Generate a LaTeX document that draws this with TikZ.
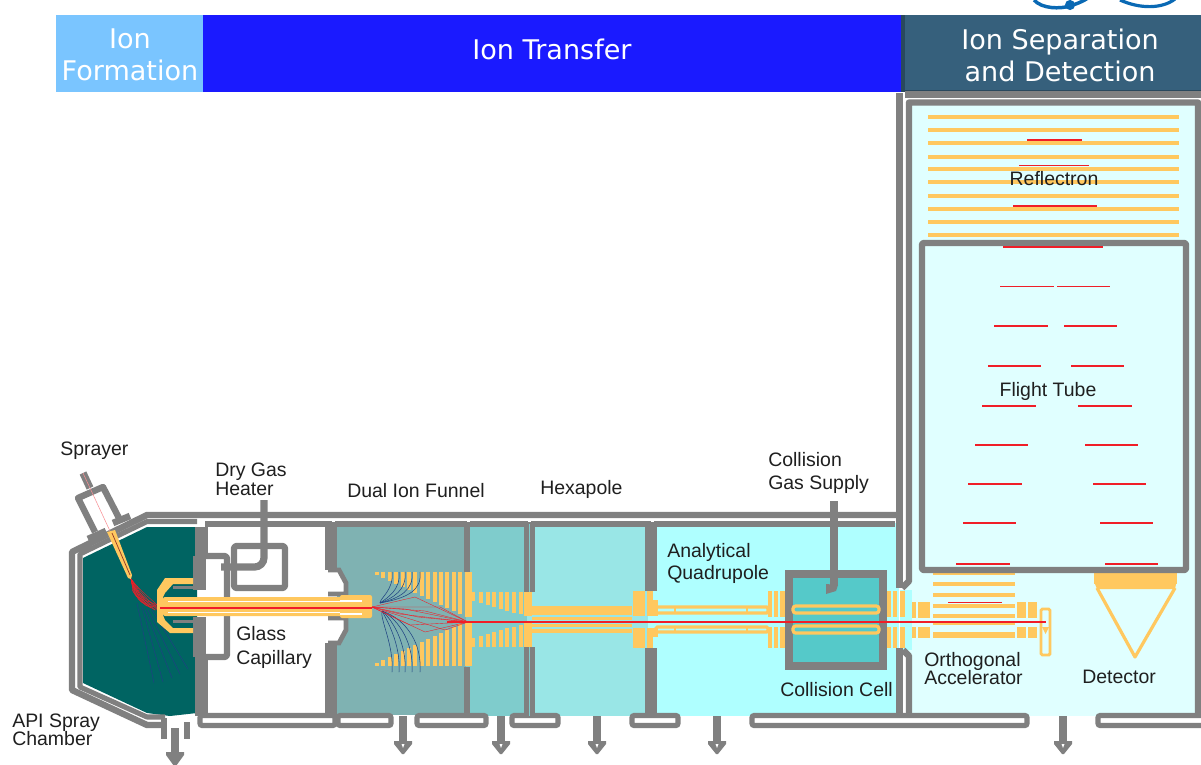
\documentclass[tikz,border=0pt]{standalone}
\usepackage{fontspec}
\setmainfont{Liberation Sans}
\newfontfamily\headfont{DejaVu Sans}
\usepackage{xcolor}
\definecolor{wallgray}{RGB}{128,128,128}
\definecolor{elecorange}{RGB}{255,200,95}
\definecolor{ionred}{RGB}{240,30,40}
\definecolor{tracedark}{RGB}{30,65,130}
\definecolor{chamberteal}{RGB}{0,100,98}
\definecolor{funnelone}{RGB}{127,178,178}
\definecolor{funneltwo}{RGB}{127,204,204}
\definecolor{hexacyan}{RGB}{153,230,230}
\definecolor{quadcyan}{RGB}{175,255,255}
\definecolor{cellteal}{RGB}{85,201,201}
\definecolor{tofcyan}{RGB}{224,255,255}
\definecolor{headlight}{RGB}{122,197,255}
\definecolor{headblue}{RGB}{26,26,255}
\definecolor{headslate}{RGB}{54,96,124}
\definecolor{logoblue}{RGB}{10,105,180}
\tikzset{
  headbar/.style={text=white,align=center,font=\headfont\fontsize{20.3}{24}\selectfont},
  partlabel/.style={anchor=west,align=left,text=black!88,inner sep=0pt,font=\fontsize{14.6}{14.5}\selectfont},
  wall/.style={draw=wallgray,line width=4.8pt,line join=round},
  thinwall/.style={draw=wallgray,line width=3.8pt,line join=round},
  flange/.style={draw=wallgray,line width=3.8pt,fill=white,rounded corners=1.5pt},
  elec/.style={fill=elecorange},
  elecline/.style={draw=elecorange,line width=2.4pt,rounded corners=1pt},
  ionpath/.style={draw=ionred,line width=0.9pt},
  iontrace/.style={draw=ionred,line width=0.28pt},
  bluetrace/.style={draw=tracedark,line width=0.4pt},
  pumpout/.style={fill=wallgray}
}
\begin{document}
\begin{tikzpicture}[x=0.75pt,y=-0.75pt]
  \useasboundingbox (0,0) rectangle (1201,764);
  \fill[white] (0,0) rectangle (1201,764);
  % logo
  \draw[logoblue,line width=2.6pt] (1034,0) .. controls (1042,9) and (1060,9) .. (1070,6) .. controls (1076,4) and (1082,2) .. (1088,-2);
  \fill[logoblue] (1070,5) circle (3.8pt);
  \draw[logoblue,line width=2.4pt] (1120,0) .. controls (1140,9) and (1162,9) .. (1175,-1);
  % header bars
  \fill[headlight] (56,15) rectangle (203,92);
  \fill[headblue] (203,15) rectangle (903,92);
  \fill[headslate] (903,15) rectangle (1201,92);
  \fill[headslate!75!black] (901,15) rectangle (905,92);
  \fill[headslate!75!black] (905,90) rectangle (1201,92);
  \node[headbar] (formhead) at (130,55) {Ion\\Formation};
  \node[headbar] (transhead) at (552,49) {Ion Transfer};
  \node[headbar] (sephead) at (1060,55) {Ion Separation\\and Detection};
  % stage backgrounds
  \fill[chamberteal] (83,558) -- (147,527) -- (197,527) -- (197,713) -- (170,716) -- (147,713) -- (83,683) -- cycle;
  \fill[funnelone] (337,527) rectangle (466,715);
  \fill[funneltwo] (466,527) rectangle (527,716);
  \fill[hexacyan] (527,527) rectangle (648,716);
  \fill[quadcyan] (648,523) rectangle (899,716);
  \fill[tofcyan] (906,103) rectangle (1198,716);
  \fill[quadcyan] (900,590) rectangle (912,650);
  % outer housing
  \draw[wall] (899.5,93) -- (899.5,588) (899.5,648) -- (899.5,725);
  \draw[wall] (899,515) -- (147,515) -- (72,552) -- (72,690) -- (147,725) -- (165,725);
  \draw[thinwall] (197,521.5) -- (147,521.5) -- (80,554) -- (80,687) -- (147,717) -- (165,717);
  \draw[wall] (205,524) -- (895,524);
  \draw[wall] (905,94.5) -- (1201,94.5);
  \draw[wall] (902,588) -- (909,581) -- (909,102.5) -- (1198,102.5) -- (1198,716);
  \draw[wall] (903,650) -- (909,656) -- (909,716);
  \foreach \xa in {333,468,529,652}{
    \fill[white] (\xa-1.5,519) rectangle (\xa+1.5,522);
  }
  % bottom flanges
  \foreach \xa/\xb in {200/335,338/391,417/486,512/558,632/678,752/1027,1098/1206}{
    \draw[flange] (\xa,715.5) rectangle (\xb,725.5);
  }
  % pump necks
  \draw[wall] (164,718) -- (164,739) (187,722) -- (187,739);
  \fill[white] (168,719) rectangle (183,730);
  \fill[pumpout] (171,728) rectangle (179,752);
  \fill[pumpout] (166,752) -- (184,752) -- (184,755) -- (176,766) -- (174,766) -- (166,755) -- cycle;
  \foreach \xa in {403,501,597,717,1063}{
    \fill[pumpout] (\xa-4,716) rectangle (\xa+4,742);
    \fill[pumpout] (\xa-9,741) -- (\xa+9,741) -- (\xa+9,744) -- (\xa+1,754) -- (\xa-1,754) -- (\xa-9,744) -- cycle;
    \fill[white] (\xa-1.5,744) -- (\xa+1.5,744) -- (\xa,748) -- cycle;
  }
  % stage walls
  \fill[wallgray] (195,527) rectangle (208,590);
  \fill[wallgray] (195,617) rectangle (208,716);
  \fill[wallgray] (193,556) rectangle (197,590);
  \fill[wallgray] (193,617) rectangle (197,657);
  \fill[wallgray] (325,524) rectangle (337,570);
  \fill[wallgray] (325,643) rectangle (337,716);
  \fill[wallgray] (464,524) rectangle (470,572);
  \fill[wallgray] (464,667) rectangle (470,716);
  \fill[wallgray] (524,524) rectangle (535,592);
  \fill[wallgray] (524,647) rectangle (535,716);
  \draw[draw=funneltwo,line width=0.5pt] (529.5,524) -- (529.5,592) (529.5,647) -- (529.5,716);
  \fill[wallgray] (645,524) rectangle (657,591);
  \fill[wallgray] (645,648) rectangle (657,716);
  % glass capillary mount
  \draw[wall,fill=white,rounded corners=2pt] (206,556) -- (227,556) -- (227,657) -- (206,657);
  \draw[draw=wallgray,line width=3.6pt,fill=white] (328,570) -- (339,570) -- (346,583) -- (346,594) -- (328,594);
  \draw[draw=wallgray,line width=3.6pt,fill=white] (328,643) -- (339,643) -- (346,630) -- (346,618) -- (328,618);
  % dry gas heater
  \draw[wall,rounded corners=2pt] (234,546) rectangle (285,588);
  \draw[draw=wallgray,line width=5.4pt,rounded corners=7pt] (264,500) -- (264,567) -- (221,567);
  % sprayer
  \draw[wall,fill=white] (95,532) -- (78,498) -- (103,487) -- (120,520);
  \draw[draw=wallgray,line width=5.5pt] (83,473) -- (90,488);
  \draw[draw=wallgray,line width=5pt] (88,539) -- (106,531);
  \draw[draw=wallgray,line width=5pt] (113,523) -- (130,516);
  \fill[elec] (107,532) -- (115,530) -- (132,575) -- (131,579) -- (128,578) -- cycle;
  \draw[draw=ionred!50!black!80!elecorange,line width=0.5pt] (112,533) -- (130,575);
  \draw[draw=ionred!50,line width=0.4pt] (83,473) -- (110,531);
  % spray cone
  \foreach \xb/\yb in {139/598,143/603,147/606,151/608,155/610,159/610,162/609}{
    \draw[iontrace] (131,579) .. controls (133,592) and (\xb-5,\yb-2) .. (\xb,\yb) -- (166,608);
    \draw[iontrace] (131,579) .. controls (138,588) and (\xb-14,\yb-12) .. (\xb,\yb);
  }
  \foreach \xa/\ya/\xb/\yb in {137/603/154/683,142/607/163/682,145/609/172/678,148/610/180/674,152/610/188/669}{
    \draw[bluetrace] (\xa,\ya) -- (\xb,\yb);
  }
  % capillary
  \fill[elec] (157,590) -- (165,578) -- (193,578) -- (193,584) -- (173,584) -- (165,593) -- (163,597) -- (163,615) -- (165,620) -- (173,628) -- (193,628) -- (193,633) -- (170,633) -- (157,622) -- cycle;
  \fill[wallgray] (173,586) rectangle (195,589);
  \fill[wallgray] (173,620) rectangle (195,623);
  \fill[elec,rounded corners=1.5pt] (163,597) rectangle (352,616);
  \fill[elec,rounded corners=1.5pt] (340,595) rectangle (372,618);
  \fill[white] (168,600.5) rectangle (340,602);
  \fill[white] (168,611.5) rectangle (340,613);
  \fill[white] (340,600) rectangle (362,601.5);
  \fill[white] (340,613) rectangle (362,614.5);
  % dual ion funnel
  \foreach \ii in {0,...,14}{
    \fill[elec] ({375+6.4*\ii},572) rectangle ({379+6.4*\ii},{575+3*\ii});
    \fill[elec] ({375+6.4*\ii},666) rectangle ({379+6.4*\ii},{663-3*\ii});
  }
  \fill[elec] (465,572) rectangle (472,617);
  \fill[elec] (465,622) rectangle (472,666);
  \fill[elec] (472,592) rectangle (475,601);
  \fill[elec] (472,638) rectangle (475,647);
  \foreach \ii in {0,...,6}{
    \fill[elec] ({479+6.6*\ii},592) rectangle ({483+6.6*\ii},{603+1.9*\ii});
    \fill[elec] ({479+6.6*\ii},647) rectangle ({483+6.6*\ii},{636-1.9*\ii});
  }
  \fill[elec] (524,592) rectangle (532,616);
  \fill[elec] (524,623) rectangle (532,647);
  \foreach \xa in {392,399,405,412,420}{
    \draw[bluetrace] (380,603) .. controls (\xa-12,598) and (\xa+2,590) .. (\xa,572);
    \draw[bluetrace] (382,611) .. controls (\xa-12,620) and (\xa+2,645) .. (\xa,672);
  }
  \foreach \xm/\ym in {415/597,440/607,425/611,405/609,418/617,400/614,445/630,425/632,410/625}{
    \draw[iontrace] (372,607) -- (\xm,\ym) -- (468,622);
  }
  % hexapole
  \fill[elec] (532,606) rectangle (632,614.5);
  \fill[elec] (532,616.5) rectangle (632,620);
  \fill[elec] (532,624) rectangle (632,627);
  \fill[elec] (532,629) rectangle (632,633);
  \foreach \xa/\xb in {633/645,647/653}{
    \fill[elec] (\xa,591) rectangle (\xb,616);
    \fill[elec] (\xa,628) rectangle (\xb,648);
  }
  % analytical quadrupole
  \fill[elec] (653,600) rectangle (658,637);
  \fill[quadcyan] (653,616) rectangle (658,628);
  \draw[elecline] (656,607) rectangle (768,613);
  \draw[elecline] (656,627) rectangle (768,632);
  \foreach \xa in {675,747}{
    \draw[draw=elecorange,line width=1.4pt] (\xa,606) -- (\xa,614) (\xa,626) -- (\xa,633);
  }
  \foreach \xa/\xb in {768/772,774/778,780/787,886/891,893/897,900/905}{
    \fill[elec] (\xa,591) rectangle (\xb,617);
    \fill[elec] (\xa,627) rectangle (\xb,648);
  }
  % collision cell
  \draw[draw=wallgray,fill=cellteal,line width=5.6pt] (789,574) rectangle (883,666);
  \draw[draw=wallgray,line width=6.4pt] (834,501) -- (834,585);
  \fill[wallgray] (838,585) -- (836,591) -- (826,594) -- (826,584) -- cycle;
  \draw[elecline,rounded corners=2pt] (793,606) rectangle (879,613);
  \draw[elecline,rounded corners=2pt] (793,626) rectangle (879,633);
  % orthogonal accelerator
  \foreach \yy in {573,584,595,606,616,623}{
    \fill[elec] (933,\yy-1.7) rectangle (1015,\yy+1.7);
  }
  \fill[elec] (933,632) rectangle (1015,638);
  \foreach \xa/\xb in {912/916,918/930,1017/1026,1028/1037}{
    \fill[elec] (\xa,602) rectangle (\xb,618);
    \fill[elec] (\xa,627) rectangle (\xb,638);
  }
  \draw[draw=elecorange,line width=2.2pt,rounded corners=1pt] (1041,609) rectangle (1050,655);
  \fill[elec] (1042,627) -- (1049,627) -- (1045.5,634) -- cycle;
  % detector
  \fill[elec] (1094,573) rectangle (1177,584);
  \fill[elec] (1095,584) -- (1176,584) -- (1175,589) -- (1097,589) -- cycle;
  \draw[draw=elecorange,line width=2.4pt,line join=round] (1097,588) -- (1135,657) -- (1175,588);
  % flight tube and reflectron
  \foreach \yy in {117,130,143,157,169,182,196,209,222,235}{
    \fill[elec] (928,\yy-2) rectangle (1179,\yy+2);
  }
  \draw[wall,rounded corners=1pt] (922,243) rectangle (1186,570);
  % ion packets
  \foreach \xa/\xb/\yy in {1027/1082/140,1019/1089/165.5,1013/1097/206,1003/1103/247,1000/1054/286.5,1057/1110/286.5,994/1048/326,1064/1117/326,988/1041/366,1071/1124/366,982/1036/406,1078/1132/406,975/1028/445,1085/1138/445,968/1022/484,1093/1146/484,963/1016/523,1100/1153/523,956/1010/564,1105/1158/564,948/1002/602.5}{
    \draw[draw=ionred,line width=0.8pt] (\xa,\yy) -- (\xb,\yy);
  }
  \draw[ionpath] (160,608) -- (372,608);
  \draw[ionpath] (447,622) -- (1046,622);
  % labels
  \node[partlabel] (sprayerlbl) at (60,451) {Sprayer};
  \node[partlabel] (heaterlbl) at (215,479) {Dry Gas\\Heater};
  \node[partlabel] (funnellbl) at (347,491) {Dual Ion Funnel};
  \node[partlabel] (hexalbl) at (540,489) {Hexapole};
  \node[partlabel] (gaslbl) at (768,473) {Collision\\[2.7pt]Gas Supply};
  \node[partlabel] (quadlbl) at (667,563) {Analytical\\[2pt]Quadrupole};
  \node[partlabel] (capillbl) at (236,647) {Glass\\[3.5pt]Capillary};
  \node[partlabel] (apilbl) at (12,730) {API Spray\\[-1pt]Chamber};
  \node[partlabel] (celllbl) at (780,690) {Collision Cell};
  \node[partlabel] (orthlbl) at (924,669) {Orthogonal\\[-1pt]Accelerator};
  \node[partlabel] (detlbl) at (1082,677) {Detector};
  \node[partlabel,anchor=center] (reflbl) at (1054,179) {Reflectron};
  \node[partlabel,anchor=center] (tubelbl) at (1048,391) {Flight Tube};
\end{tikzpicture}
\end{document}
